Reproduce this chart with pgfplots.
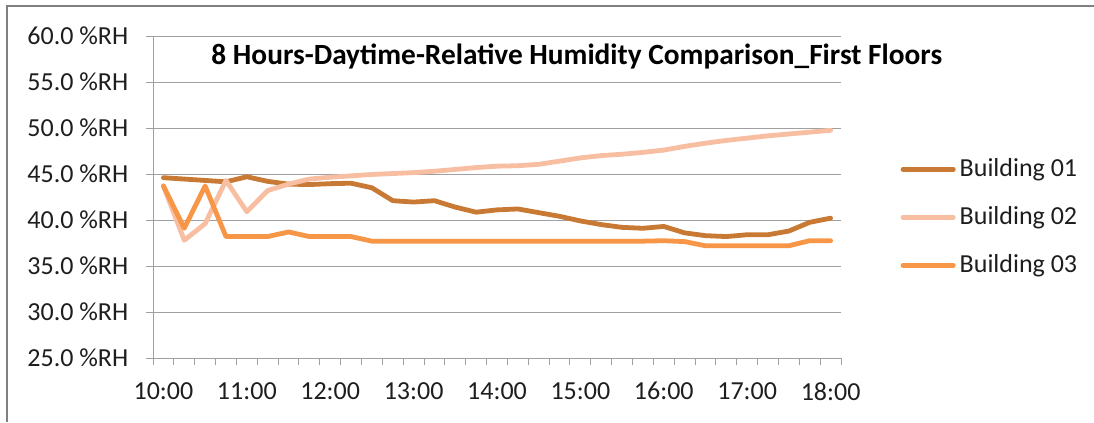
\documentclass[border=0pt]{standalone}
\usepackage{pgfplots}
\usepackage{pgfplotstable}
\pgfplotsset{compat=1.18}
\usepackage{fontspec}
\setmainfont{Carlito}
\definecolor{bA}{RGB}{200,121,52}
\definecolor{bB}{RGB}{248,190,162}
\definecolor{bC}{RGB}{247,150,70}
\definecolor{gridc}{RGB}{160,160,160}
\definecolor{framec}{RGB}{128,128,128}
\definecolor{txt}{RGB}{30,30,30}
\pgfplotstableread{
i b1 b2 b3
0 44.6 43.7 43.7
1 44.45 37.8 39.1
2 44.3 39.6 43.7
3 44.15 44.3 38.2
4 44.7 40.9 38.2
5 44.2 43.2 38.2
6 43.9 43.9 38.7
7 43.85 44.45 38.2
8 43.95 44.65 38.2
9 44.0 44.8 38.2
10 43.5 44.95 37.7
11 42.1 45.05 37.7
12 41.95 45.15 37.7
13 42.1 45.3 37.7
14 41.4 45.5 37.7
15 40.85 45.7 37.7
16 41.1 45.85 37.7
17 41.2 45.9 37.7
18 40.8 46.05 37.7
19 40.4 46.4 37.7
20 39.9 46.75 37.7
21 39.5 47.0 37.7
22 39.2 47.15 37.7
23 39.1 47.35 37.7
24 39.3 47.6 37.75
25 38.6 48.0 37.65
26 38.3 48.35 37.2
27 38.2 48.65 37.2
28 38.4 48.9 37.2
29 38.4 49.15 37.2
30 38.8 49.35 37.2
31 39.75 49.55 37.75
32 40.2 49.75 37.75
}\datatable
\begin{document}
\begin{tikzpicture}
\useasboundingbox (0pt,0pt) rectangle (820.5pt,316.5pt);
\draw[framec, line width=1.5pt] (5.25pt,0pt) -- (5.25pt,312pt) -- (820.5pt,312pt);
\begin{axis}[
  at={(114.75pt,48pt)}, anchor=south west, scale only axis,
  width=516pt, height=241.5pt,
  xmin=-0.5, xmax=32.5, ymin=25, ymax=60,
  axis x line*=bottom, axis y line*=left,
  axis line style={gridc, line width=0.75pt, -},
  tick align=outside, major tick length=5.6pt,
  tick style={gridc, line width=0.75pt},
  ytick={25,30,...,60},
  yticklabels={25.0 \%RH,30.0 \%RH,35.0 \%RH,40.0 \%RH,45.0 \%RH,50.0 \%RH,55.0 \%RH,60.0 \%RH},
  yticklabel style={anchor=east, inner sep=0pt, xshift=-12.75pt},
  xtick={-0.5,0.5,...,32.5}, xticklabels={},
  extra x ticks={0,4,...,32},
  extra x tick labels={10:00,11:00,12:00,13:00,14:00,15:00,16:00,17:00,18:00},
  extra x tick style={major tick length=0pt, xticklabel style={anchor=north, inner sep=0pt, yshift=-18pt}},
  ymajorgrids, grid style={gridc, line width=0.75pt},
  ticklabel style={font=\fontsize{19.5}{23}\selectfont, text=txt},
  clip=false,
  legend style={at={(axis description cs:1.0828,0.624)}, anchor=north west,
    draw=none, fill=none, inner sep=0pt, row sep=18pt,
    font=\fontsize{19.5}{23}\selectfont, text=txt,
    nodes={inner sep=0pt, text height=14pt, text depth=4pt}},
  legend cell align=left,
  legend image code/.code={\draw[#1] (1.8pt,0pt) -- (39.5pt,0pt); \path (0pt,0pt) (42.5pt,0pt);},
  every axis plot/.append style={line width=3.6pt, line join=round, line cap=round},
]
\addplot[bA] table[x=i, y=b1] {\datatable};
\addplot[bB] table[x=i, y=b2] {\datatable};
\addplot[bC] table[x=i, y=b3] {\datatable};
\legend{Building 01, Building 02, Building 03}
\node[font=\bfseries\fontsize{22}{26}\selectfont, text=black] at (axis description cs:0.616,0.935) {8 Hours-Daytime-Relative Humidity Comparison\_First Floors};
\end{axis}
\end{tikzpicture}
\end{document}
